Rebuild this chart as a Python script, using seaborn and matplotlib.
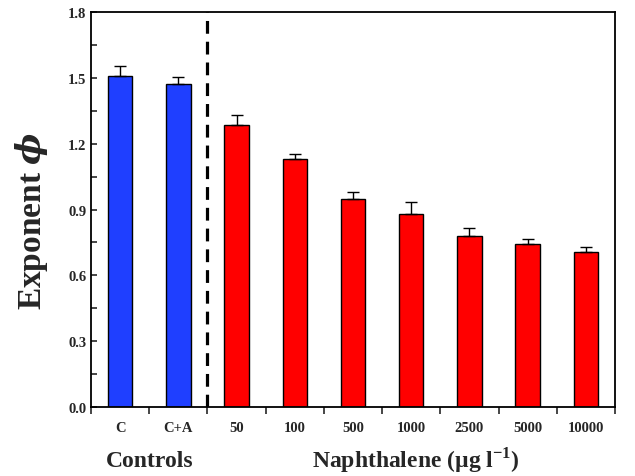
import pandas as pd
import numpy as np
import matplotlib.pyplot as plt
import seaborn as sns

# values
labels = ["C", "C+A", "50", "100", "500", "1000", "2500", "5000", "10000"]
groups = ["Controls", "Controls"] + ["Naphthalene"] * 7
means = [1.51, 1.472, 1.285, 1.13, 0.948, 0.88, 0.779, 0.742, 0.706]
errs = [0.043, 0.030, 0.045, 0.025, 0.030, 0.055, 0.038, 0.022, 0.022]

df = pd.DataFrame({"label": labels, "group": groups, "value": means})

sns.set_style("ticks")
plt.rcParams['font.family'] = ['Liberation Serif', 'DejaVu Serif']
plt.rcParams['font.weight'] = 'bold'
plt.rcParams['mathtext.fontset'] = 'custom'
plt.rcParams['mathtext.rm'] = 'Liberation Serif:bold'
plt.rcParams['mathtext.bf'] = 'Liberation Serif:bold'
plt.rcParams['mathtext.it'] = 'DejaVu Serif:italic:bold'

fig = plt.figure(figsize=(6.35, 4.77), dpi=100)
ax = fig.add_axes([0.1433, 0.1447, 0.8252, 0.828])

sns.barplot(data=df, x="label", y="value", hue="group",
            palette={"Controls": "#1f3fff", "Naphthalene": "#ff0000"},
            saturation=1, dodge=False, width=0.42, edgecolor="black",
            linewidth=1.0, legend=False, ax=ax)

x = np.arange(len(labels))
ax.errorbar(x, means, yerr=[np.zeros(len(errs)), errs], fmt="none",
            ecolor="black", elinewidth=1.0, capsize=4, capthick=1.0)

ax.set_xlim(-0.5, len(labels) - 0.5)
ax.set_ylim(0, 1.8)
ax.set_yticks(np.arange(0, 1.81, 0.3))
ax.set_yticks(np.arange(0, 1.81, 0.15), minor=True)
ax.set_yticklabels([f"{v:.1f}" for v in np.arange(0, 1.81, 0.3)],
                   fontsize=10.5, fontweight="bold")
ax.set_xticks(x)
ax.set_xticklabels(labels, fontsize=10.5, fontweight="bold")
ax.set_xticks(np.arange(-0.5, len(labels), 1.0), minor=True)
ax.tick_params(axis="x", which="major", length=0, pad=10)
ax.tick_params(axis="x", which="minor", direction="out", length=5, width=1.2)
ax.tick_params(axis="y", which="both", direction="in", length=4, width=1.2)

for s in ax.spines.values():
    s.set_linewidth(1.3)
    s.set_color("black")

ax.axvline(1.5, color="black", linestyle=(0, (4, 2.5)), linewidth=2.3)

ax.set_xlabel("")
ax.set_ylabel("Exponent $\\mathit{\u03d5}$", fontsize=24, fontweight="bold")
ax.yaxis.set_label_coords(-0.078, 0.475)

fig.text(0.235, 0.02, "Controls", fontsize=17, fontweight="bold", ha="center")
fig.text(0.655, 0.02, "Naphthalene (\u00b5g l$^{\\mathrm{-1}}$)", fontsize=17,
         fontweight="bold", ha="center")

plt.savefig("out.png", dpi=100)
